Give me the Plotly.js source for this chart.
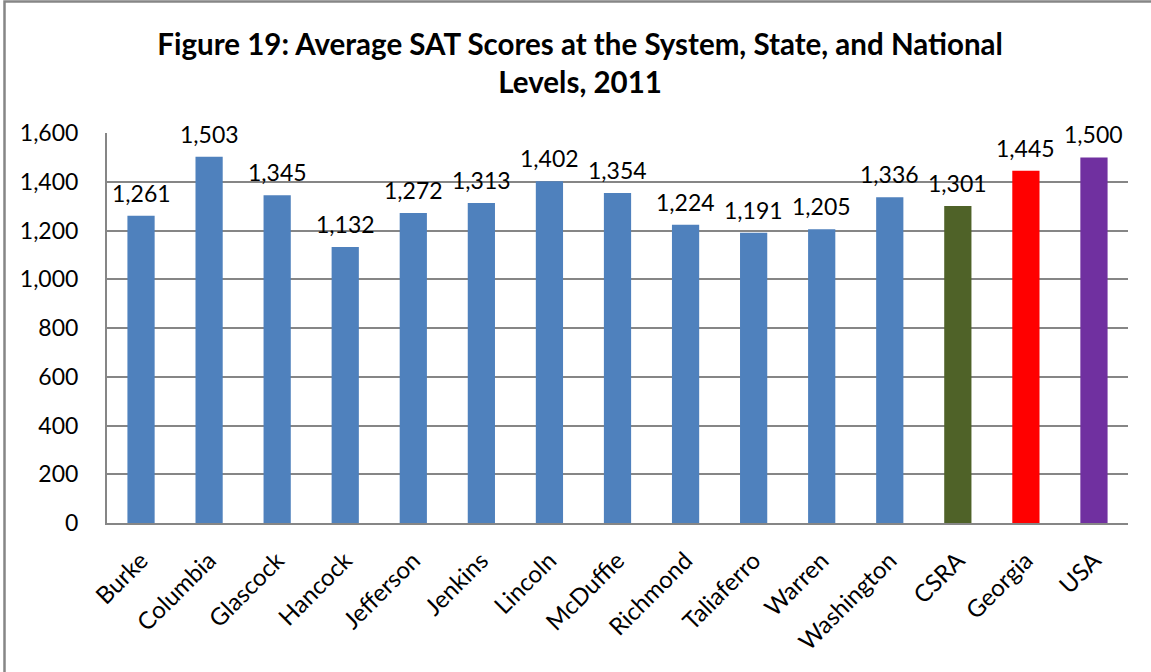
<!DOCTYPE html>
<html>
<head>
<meta charset="utf-8">
<script src="https://cdn.plot.ly/plotly-3.0.1.min.js"></script>
<style>html,body{margin:0;padding:0;background:#fff;}#chart{width:1151px;height:672px;}</style>
</head>
<body>
<div id="chart"></div>
<script>
const categories = ["Burke","Columbia","Glascock","Hancock","Jefferson","Jenkins","Lincoln","McDuffie","Richmond","Taliaferro","Warren","Washington","CSRA","Georgia","USA"];
const scores = [1261,1503,1345,1132,1272,1313,1402,1354,1224,1191,1205,1336,1301,1445,1500];
const barColors = ["#4F81BD","#4F81BD","#4F81BD","#4F81BD","#4F81BD","#4F81BD","#4F81BD","#4F81BD","#4F81BD","#4F81BD","#4F81BD","#4F81BD","#4F6228","#FF0000","#7030A0"];
const yTicks = [0,200,400,600,800,1000,1200,1400,1600];

const fontFam = "Lato, 'Open Sans', sans-serif";
const fmt = v => v.toLocaleString("en-US");

const trace = {
  type: "bar",
  x: categories,
  y: scores,
  marker: {color: barColors},
  cliponaxis: false,
  hoverinfo: "x+y"
};

const labels = categories.map((c, i) => ({
  x: c, y: scores[i], xref: "x", yref: "y",
  text: fmt(scores[i]), showarrow: false,
  yanchor: "bottom", yshift: 7,
  font: {family: fontFam, size: 23, color: "#000"}
}));

const L = 107, R = 1128, T = 133, B = 523;
const W = 1151, H = 672;
const pw = R - L, ph = B - T;
const px = x => (x - L) / pw;
const py = y => (B - y) / ph;

const layout = {
  width: W, height: H,
  margin: {l: L, r: W - R, t: T, b: H - B, pad: 0},
  paper_bgcolor: "#fff",
  plot_bgcolor: "#fff",
  showlegend: false,
  bargap: 0.6,
  title: {
    text: "<b>Figure 19: Average SAT Scores at the System, State, and National<br>Levels, 2011</b>",
    font: {family: fontFam, size: 29.5, color: "#000"},
    x: 0.504, xanchor: "center",
    y: 0.918, yanchor: "middle"
  },
  xaxis: {
    tickangle: -45,
    tickfont: {family: fontFam, size: 24, color: "#000"},
    showline: true, linecolor: "#868686", linewidth: 2,
    ticks: "", showgrid: false,
    ticklabelstandoff: 12
  },
  yaxis: {
    range: [0, 1600],
    tickvals: yTicks,
    ticktext: yTicks.map(fmt),
    tickfont: {family: fontFam, size: 23, color: "#000"},
    showgrid: true, gridcolor: "#868686", gridwidth: 2,
    showline: true, linecolor: "#868686", linewidth: 2,
    ticks: "", zeroline: false,
    ticklabelstandoff: 22
  },
  annotations: labels,
  shapes: [{
    type: "rect", xref: "paper", yref: "paper",
    x0: px(4.5), x1: px(1200), y0: py(720), y1: py(1.5),
    line: {color: "#868686", width: 2.5}, fillcolor: "rgba(0,0,0,0)", layer: "below"
  }]
};

Plotly.newPlot("chart", [trace], layout, {displayModeBar: false, staticPlot: true});
</script>
</body>
</html>
